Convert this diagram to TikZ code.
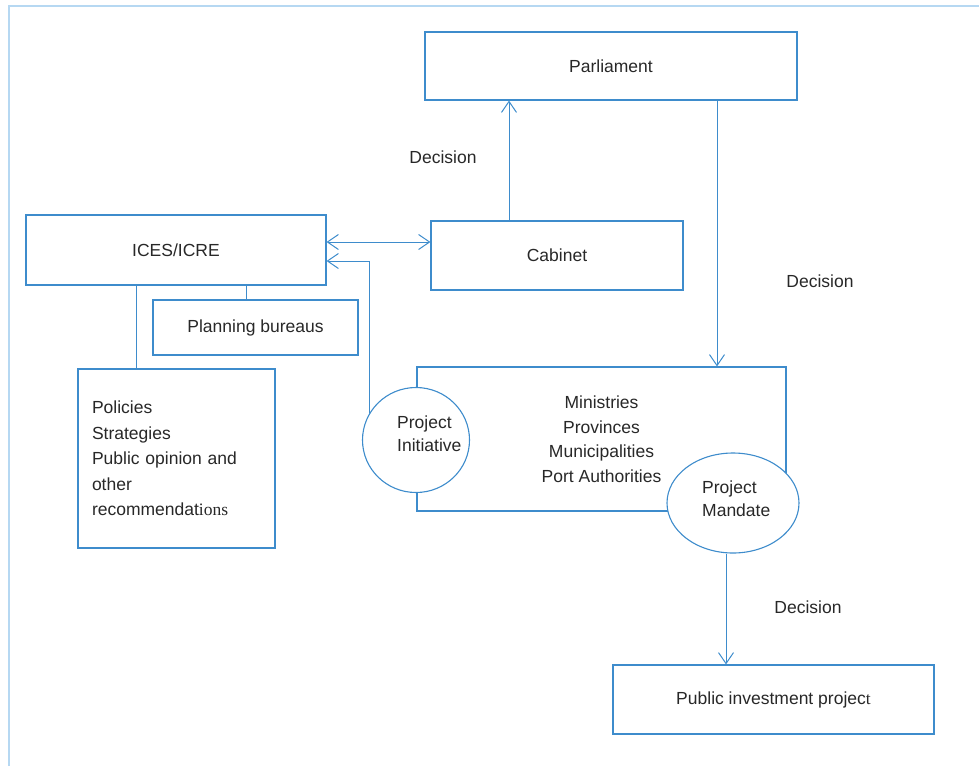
\documentclass[tikz,border=0pt]{standalone}
\usepackage{fontspec}
\setmainfont{Liberation Sans}
\newfontfamily\serifpart{Liberation Serif}
\usetikzlibrary{arrows.meta,shapes.geometric}
\definecolor{ln}{RGB}{62,140,204}
\definecolor{frm}{RGB}{182,216,242}
\definecolor{tx}{RGB}{40,40,40}
\begin{document}
\begin{tikzpicture}[x=1pt,y=-1pt,
  box/.style={draw=ln,line width=1.1pt,fill=white,inner sep=0pt,text=tx,font=\fontsize{17.5}{25.5}\selectfont},
  oval/.style={ellipse,draw=ln,line width=1.1pt,fill=white,inner sep=0pt},
  lbl/.style={text=tx,font=\fontsize{17.5}{23}\selectfont,inner sep=0pt},
  con/.style={draw=ln,line width=1pt},
  tip/.style={Straight Barb[length=11pt,width=15pt,line width=1pt]},
  arr/.style={con,-{Straight Barb[length=11pt,width=15pt,line width=1pt]}},
  darr/.style={con,{Straight Barb[length=11pt,width=15pt,line width=1pt]}-{Straight Barb[length=11pt,width=15pt,line width=1pt]}}]
\useasboundingbox (0,0) rectangle (979,766);
\draw[frm,line width=1.5pt] (9,766) -- (9,6) -- (979,6);

\node[box,minimum width=372pt,minimum height=68pt] (parl) at (611,66) {Parliament};
\node[box,minimum width=252pt,minimum height=69pt] (cab) at (557,255.5) {Cabinet};
\node[box,minimum width=300pt,minimum height=70pt] (ices) at (176,250) {ICES/ICRE};
\node[box,minimum width=205pt,minimum height=55pt] (plan) at (255.5,327.5) {Planning bureaus};
\node[box,minimum width=197pt,minimum height=179pt,text width=169pt,align=left,inner xsep=14pt] (pol) at (176.5,458.5)
  {Policies\\Strategies\\Public opinion and\\other\\recommendat{\serifpart ions}};
\node[box,minimum width=369pt,minimum height=144pt,align=center,font=\fontsize{17.5}{24.5}\selectfont] (min) at (601.5,439)
  {Ministries\\Provinces\\Municipalities\\Port Authorities};
\node[oval,minimum width=107pt,minimum height=105pt] (init) at (416,440) {};
\node[lbl,align=left,anchor=west] (initt) at (397,434) {Project\\Initiative};
\node[oval,minimum width=132pt,minimum height=100pt] (mand) at (733,503) {};
\node[lbl,align=left,anchor=west] (mandt) at (702,499) {Project\\Mandate};
\node[box,minimum width=321pt,minimum height=69pt] (pub) at (773.5,699.5) {Public investment projec{\serifpart t}};

\node[lbl] (d1) at (443,157) {Decision};
\node[lbl] (d2) at (820,281) {Decision};
\node[lbl] (d3) at (808,607) {Decision};

\draw[arr] ([xshift=-48pt]cab.north) -- ([xshift=-48pt]cab.north |- parl.south);
\draw[arr] ([xshift=106pt]parl.south) -- ([xshift=106pt]parl.south |- min.north);
\draw[darr] ([yshift=8pt]ices.east) -- ([yshift=8pt]ices.east -| cab.west);
\draw[arr] (init.150) |- ([yshift=-11pt]ices.east);
\draw[con] ([xshift=-40pt]ices.south) -- ([xshift=-40pt]ices.south |- pol.north);
\draw[con] ([xshift=70pt]ices.south) -- ([xshift=70pt]ices.south |- plan.north);
\draw[arr] ([xshift=-7pt]mand.south) -- ([xshift=-7pt]mand.south |- pub.north);
\end{tikzpicture}
\end{document}
